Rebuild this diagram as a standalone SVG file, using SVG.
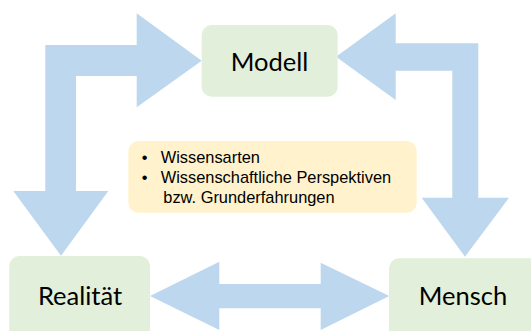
<svg xmlns="http://www.w3.org/2000/svg" width="531" height="331" viewBox="0 0 531 331">
<style>
.node{fill:#e2efda}
.label{font-family:Lato,"Open Sans","Liberation Sans",sans-serif;font-size:25.5px;fill:#000;text-anchor:middle}
.arrow{fill:#bdd7ee}
.info{fill:#fff2cc}
.itext{font-family:"Liberation Sans",Arial,sans-serif;font-size:16.4px;fill:#000}
</style>
<rect width="531" height="331" fill="#ffffff"/>
<g id="connectors">
<polygon class="arrow" points="45.3,191 13.3,191 61,255.7 108.3,191 76,191 76,76 136.7,76 136.7,107.3 201.7,60.7 136.7,13.3 136.7,45 45.3,45"/>
<polygon class="arrow" points="336,56.7 395.7,13.3 395.7,43.3 478.3,43.3 478.3,197.7 509,197.7 465,256.7 421.7,197.7 452.3,197.7 452.3,70.7 395.7,70.7 395.7,100"/>
<polygon class="arrow" points="150,296 219.3,261.7 219.3,284 320.7,284 320.7,262.7 389.3,296 320.7,330 320.7,308.3 219.3,308.3 219.3,330"/>
</g>
<g id="modell">
<rect class="node" x="201.7" y="25" width="136" height="71.7" rx="10"/>
<text class="label" x="269.5" y="70.7">Modell</text>
</g>
<g id="realitaet">
<rect class="node" x="9.3" y="256" width="140.7" height="85" rx="10"/>
<text class="label" x="80" y="305">Realität</text>
</g>
<g id="mensch">
<rect class="node" x="389" y="258.3" width="150" height="85" rx="10"/>
<text class="label" x="463" y="305">Mensch</text>
</g>
<g id="info">
<rect class="info" x="128.3" y="141" width="288.4" height="71.7" rx="10"/>
<text class="itext" x="141.7" y="163.3">•</text>
<text class="itext" x="160.7" y="163.3">Wissensarten</text>
<text class="itext" x="141.7" y="183.3">•</text>
<text class="itext" x="160.7" y="183.3">Wissenschaftliche Perspektiven</text>
<text class="itext" x="163.3" y="202.7">bzw. Grunderfahrungen</text>
</g>
</svg>
